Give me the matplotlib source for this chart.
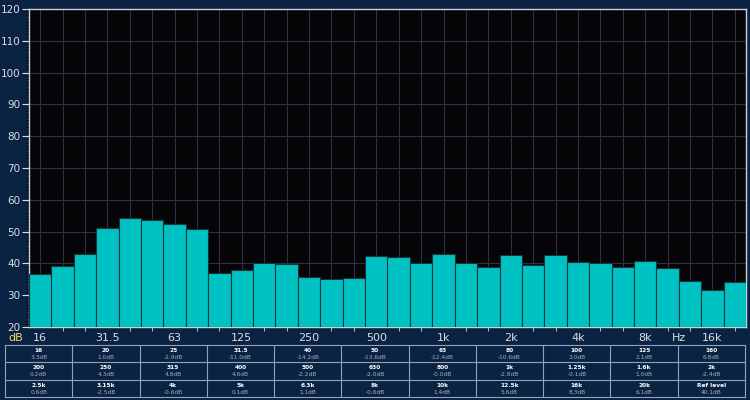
import numpy as np
import matplotlib
matplotlib.use("Agg")
import matplotlib.pyplot as plt
from matplotlib.ticker import MultipleLocator

# third-octave bands 16 Hz .. 20 kHz
bands = ['16', '20', '25', '31.5', '40', '50', '63', '80', '100', '125', '160',
         '200', '250', '315', '400', '500', '630', '800', '1k', '1.25k', '1.6k',
         '2k', '2.5k', '3.15k', '4k', '5k', '6.3k', '8k', '10k', '12.5k', '16k', '20k']
levels = [36.6, 39.1, 43.0, 51.0, 54.4, 53.6, 52.4, 50.7, 37.1, 37.9, 40.0,
          39.8, 35.8, 35.2, 35.4, 42.2, 42.1, 40.1, 42.9, 40.1, 39.0,
          42.5, 39.5, 42.5, 40.5, 40.0, 38.9, 40.7, 38.5, 34.5, 31.6, 34.1]

tick_labels = ['16', '31.5', '63', '125', '250', '500', '1k', '2k', '4k', '8k', '16k']

# correction table below the plot
table_names = [
    ['16', '20', '25', '31.5', '40', '50', '63', '80', '100', '125', '160'],
    ['200', '250', '315', '400', '500', '630', '800', '1k', '1.25k', '1.6k', '2k'],
    ['2.5k', '3.15k', '4k', '5k', '6.3k', '8k', '10k', '12.5k', '16k', '20k', 'Ref level'],
]
table_vals = [
    ['3.3dB', '1.0dB', '-2.9dB', '-11.0dB', '-14.2dB', '-13.6dB', '-12.4dB', '-10.6dB', '3.0dB', '2.1dB', '6.8dB'],
    ['0.2dB', '4.3dB', '4.8dB', '4.6dB', '-2.2dB', '-2.0dB', '-0.0dB', '-2.8dB', '-0.1dB', '1.0dB', '-2.4dB'],
    ['0.6dB', '-2.5dB', '-0.6dB', '0.1dB', '1.1dB', '-0.6dB', '1.4dB', '5.6dB', '8.3dB', '6.1dB', '40.1dB'],
]

bg = '#0b2343'
txt = '#d8dee6'
line_col = '#8ea3bd'

fig = plt.figure(figsize=(7.5, 4), dpi=100, facecolor=bg)
ax = fig.add_axes([29/750, 73/400, 717/750, 318/400])
ax.set_facecolor('#050508')

x = np.arange(len(bands))
ax.bar(x, [v - 20 for v in levels], bottom=20, width=1.0, color='#00c2c2',
       edgecolor='#14363c', linewidth=0.8, zorder=3)

ax.set_xlim(-0.5, len(bands) - 0.5)
ax.set_ylim(20, 120)

ax.set_xticks(x[::3])
ax.set_xticklabels(tick_labels)
ax.set_xticks(x, minor=True)
ax.yaxis.set_major_locator(MultipleLocator(10))
ax.yaxis.set_minor_locator(MultipleLocator(1))

ax.tick_params(axis='both', colors=txt, labelsize=7.5, labelcolor=txt)
ax.tick_params(axis='x', which='major', length=0, pad=4, labelsize=8)
ax.tick_params(axis='x', which='minor', length=3, color=txt)
ax.tick_params(axis='y', which='major', length=5, pad=1)
ax.tick_params(axis='y', which='minor', length=2.5, width=0.6)

for xi in x:
    ax.axvline(xi, color='#302e44', linewidth=0.8, zorder=1)
for yv in range(30, 120, 10):
    ax.axhline(yv, color='#302e44', linewidth=0.8, zorder=1)

for s in ax.spines.values():
    s.set_color('#c9d2da')
    s.set_linewidth(1.0)

fig.text(16/750, 1 - 338/400, 'dB', color='#f0e060', fontsize=8,
         ha='center', va='center')
ax.text(28.5, -0.035, 'Hz', color=txt, fontsize=8, ha='center', va='center',
        transform=ax.get_xaxis_transform())

# table
tax = fig.add_axes([5/750, 3/400, 740/750, 52/400])
tax.set_xlim(0, 11)
tax.set_ylim(3, 0)
tax.set_facecolor(bg)
tax.set_xticks([])
tax.set_yticks([])
for s in tax.spines.values():
    s.set_color(line_col)
    s.set_linewidth(0.8)
for c in range(1, 11):
    tax.axvline(c, color=line_col, linewidth=0.8)
for r in range(1, 3):
    tax.axhline(r, color=line_col, linewidth=0.8)
for r in range(3):
    for c in range(11):
        tax.text(c + 0.5, r + 0.32, table_names[r][c], color='white', fontsize=4.2,
                 fontweight='bold', ha='center', va='center')
        tax.text(c + 0.5, r + 0.72, table_vals[r][c], color='#9fb0c4', fontsize=4.2,
                 ha='center', va='center')

fig.savefig('out.png', dpi=100, facecolor=bg)
